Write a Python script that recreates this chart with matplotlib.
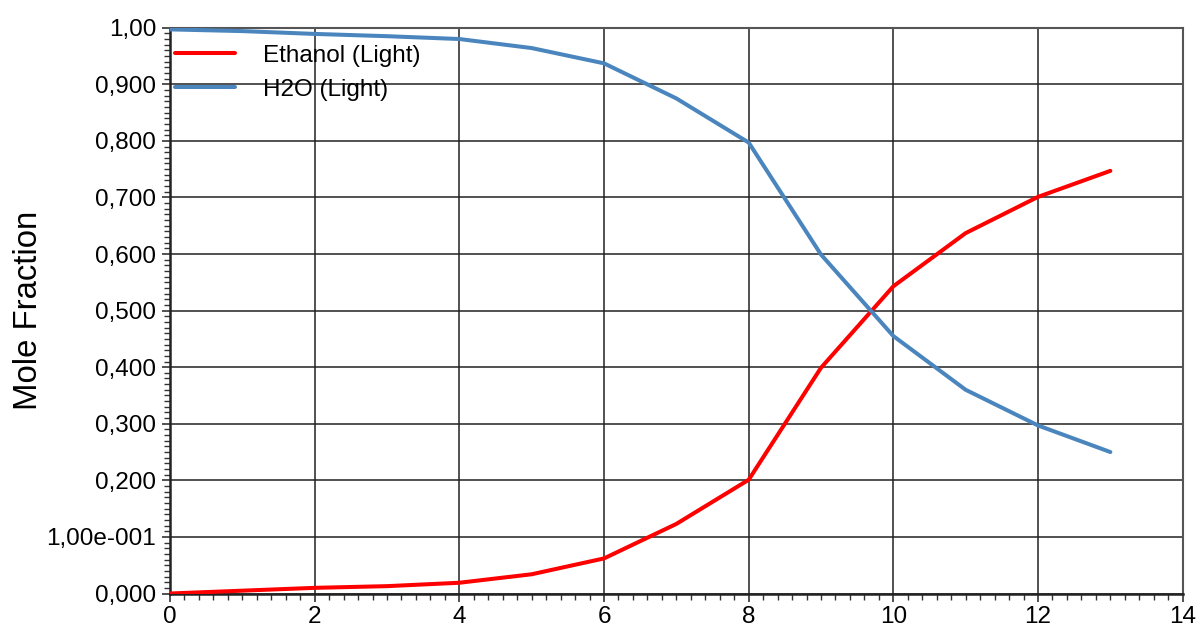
import matplotlib.pyplot as plt
from matplotlib.ticker import MultipleLocator

plt.rcParams['font.family'] = ['Liberation Sans', 'DejaVu Sans']

stages = [0, 1, 2, 3, 4, 5, 6, 7, 8, 9, 10, 11, 12, 13]
ethanol = [0.000, 0.005, 0.010, 0.013, 0.019, 0.034, 0.062, 0.123, 0.201, 0.399, 0.543, 0.637, 0.701, 0.747]
water = [0.997, 0.994, 0.989, 0.985, 0.980, 0.964, 0.937, 0.875, 0.797, 0.599, 0.455, 0.360, 0.297, 0.250]

y_ticks = [0.0, 0.1, 0.2, 0.3, 0.4, 0.5, 0.6, 0.7, 0.8, 0.9, 1.0]
y_labels = ['0,000', '1,00e-001', '0,200', '0,300', '0,400', '0,500',
            '0,600', '0,700', '0,800', '0,900', '1,00']

fig = plt.figure(figsize=(11.96, 6.31), dpi=100)
ax = fig.add_axes([170 / 1196, 1 - 593.5 / 631, (1182.7 - 170) / 1196, (593.5 - 27.7) / 631])

ax.plot(stages, ethanol, color='#ff0000', linewidth=2.9, label='Ethanol (Light)',
        solid_capstyle='round', zorder=3)
ax.plot(stages, water, color='#4a86bd', linewidth=2.9, label='H2O (Light)',
        solid_capstyle='round', zorder=3)

ax.set_xlim(0, 14)
ax.set_ylim(0, 1)
ax.xaxis.set_major_locator(MultipleLocator(2))
ax.xaxis.set_minor_locator(MultipleLocator(0.2))
ax.set_yticks(y_ticks)
ax.set_yticklabels(y_labels)
ax.yaxis.set_minor_locator(MultipleLocator(0.01))

ax.grid(True, which='major', color='#222222', linewidth=1.1)
ax.set_axisbelow(True)

ax.tick_params(axis='both', which='major', direction='out', length=6, width=1.2,
               color='#333333', labelsize=17.5, pad=4)
ax.tick_params(axis='both', which='minor', direction='out', length=4, width=1.0,
               color='#333333')
ax.tick_params(axis='x', which='major', pad=3)

for side in ['left', 'bottom']:
    ax.spines[side].set_color('#222222')
    ax.spines[side].set_linewidth(1.8)
for side in ['top', 'right']:
    ax.spines[side].set_color('#555555')
    ax.spines[side].set_linewidth(1.5)

ax.set_ylabel('Mole Fraction', fontsize=23.7, labelpad=2)

leg = ax.legend(loc='upper left', frameon=False, fontsize=17.5, handlelength=2.47,
                handletextpad=1.15, borderaxespad=0, borderpad=0, labelspacing=0.5,
                bbox_to_anchor=(5 / 1012.7, 0.970))

fig.savefig('out.png', dpi=100)
